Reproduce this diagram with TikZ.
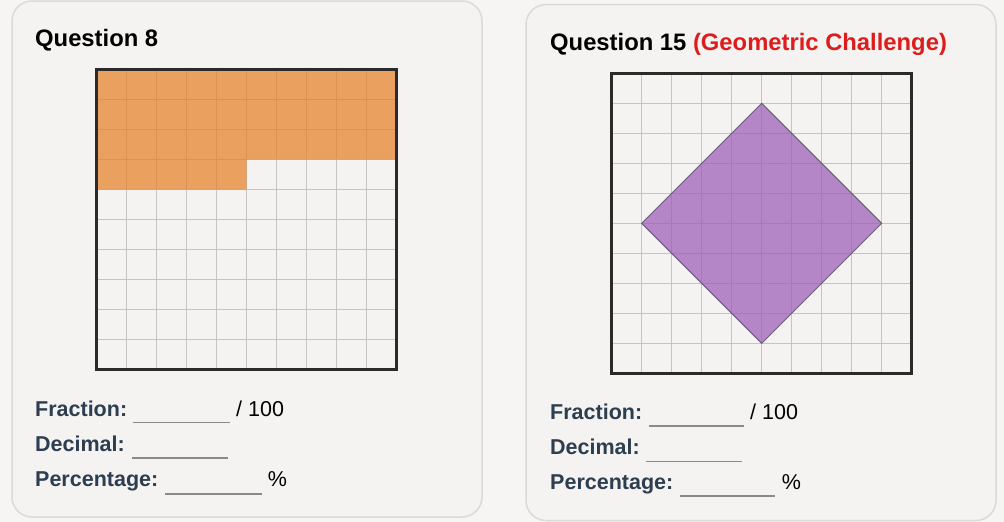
\documentclass[tikz,border=0pt]{standalone}
\usepackage{fontspec}
\setmainfont{Liberation Sans}
\definecolor{bgc}{HTML}{F6F5F4}
\definecolor{cardc}{HTML}{F5F3F1}
\definecolor{cardline}{HTML}{DADADA}
\definecolor{gridc}{HTML}{C4C4C4}
\definecolor{framec}{HTML}{2A2A2A}
\definecolor{orangec}{HTML}{E67E22}
\definecolor{purplec}{HTML}{9B59B6}
\definecolor{purpleline}{HTML}{6D5C7A}
\definecolor{labelc}{HTML}{2C3E50}
\definecolor{redc}{HTML}{DD1C1C}
\definecolor{blankc}{HTML}{8A8A8A}
\tikzset{
  card/.style={draw=cardline,line width=1.5pt,fill=cardc,rounded corners=20pt},
  gridline/.style={draw=gridc,line width=1.4pt},
  frame/.style={draw=framec,line width=3pt},
  title/.style={anchor=base west,inner sep=0pt,font=\fontsize{23.8}{28}\selectfont\bfseries,text=black},
  lbl/.style={anchor=base west,inner sep=0pt,font=\fontsize{21.5}{25}\selectfont\bfseries,text=labelc},
  plain/.style={anchor=base west,inner sep=0pt,font=\fontsize{21.5}{25}\selectfont,text=black},
  blank/.style={draw=blankc,line width=1.3pt}
}
\newcommand{\mygrid}{%
  \fill[cardc] (0,0) rectangle (300,300);
  \foreach \i in {30,60,...,270}{
    \draw[gridline] (\i,0) -- (\i,300);
    \draw[gridline] (0,\i) -- (300,\i);
  }%
}
\begin{document}
\begin{tikzpicture}[x=1pt,y=-1pt]
\useasboundingbox (0,0) rectangle (1004,522);
\fill[bgc] (0,0) rectangle (1004,522);
% cards
\draw[card] (12,1) rectangle (482,517);
\draw[card] (526,4.5) rectangle (996,520.5);
% left grid
\begin{scope}[shift={(96.7,69.5)}]
  \mygrid
  \fill[orangec,fill opacity=0.7] (0,0) -- (300,0) -- (300,90) -- (150,90) -- (150,120) -- (0,120) -- cycle;
  \draw[frame] (0,0) rectangle (300,300);
\end{scope}
% right grid
\begin{scope}[shift={(611.7,73.3)}]
  \mygrid
  \filldraw[fill=purplec,fill opacity=0.7,draw=purpleline,line width=1pt] (150,30) -- (270,150) -- (150,270) -- (30,150) -- cycle;
  \draw[frame] (0,0) rectangle (300,300);
\end{scope}
% titles
\node[title] (t8) at (35,46) {Question 8};
\node[title] (t15) at (550,50) {Question 15 \textcolor{redc}{(Geometric Challenge)}};
% left answers
\node[lbl] (f1) at (35,416) {Fraction:};
\draw[blank] (133.3,422.7) -- (230,422.7);
\node[plain] (h1) at (236,416) {/ 100};
\node[lbl] (d1) at (35,451) {Decimal:};
\draw[blank] (131.7,458) -- (227.7,458);
\node[lbl] (p1) at (35,486.5) {Percentage:};
\draw[blank] (165,494) -- (261.7,494);
\node[plain] (pc1) at (267.7,486.5) {\%};
% right answers
\node[lbl] (f2) at (550,419.3) {Fraction:};
\draw[blank] (649.3,426) -- (744.3,426);
\node[plain] (h2) at (750,419.3) {/ 100};
\node[lbl] (d2) at (550,454.3) {Decimal:};
\draw[blank] (646,461.7) -- (741.7,461.7);
\node[lbl] (p2) at (550,489.3) {Percentage:};
\draw[blank] (680,496) -- (775.3,496);
\node[plain] (pc2) at (781.7,489.3) {\%};
\end{tikzpicture}
\end{document}
